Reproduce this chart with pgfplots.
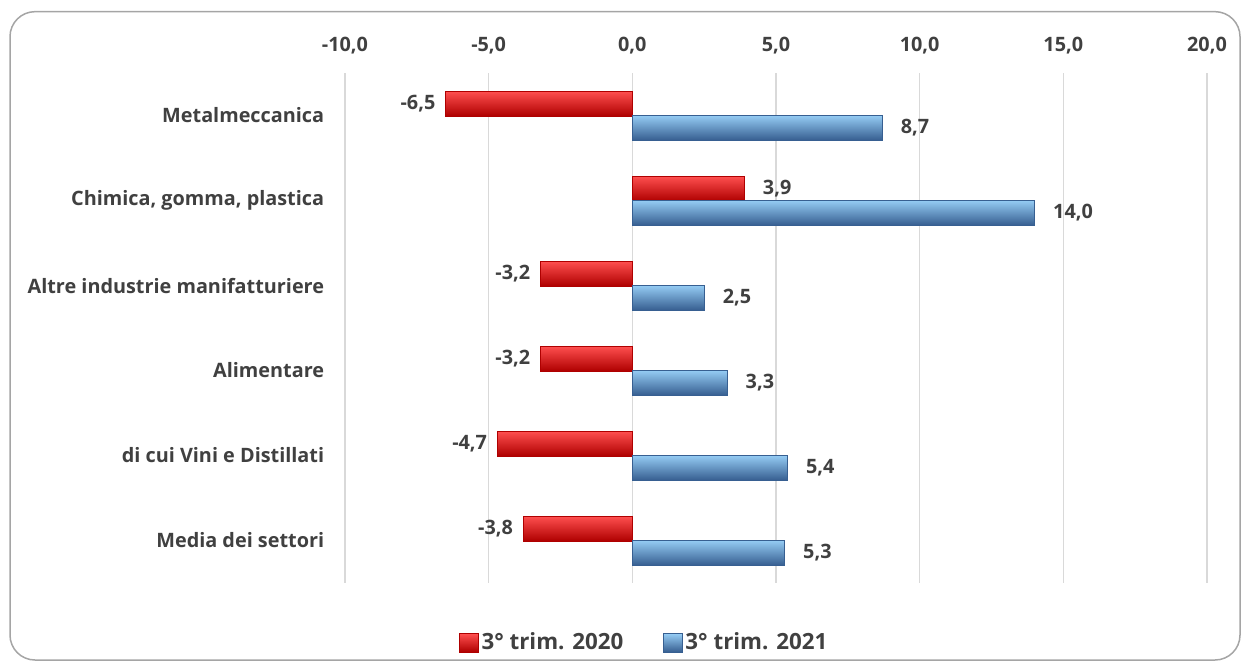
\documentclass[border=0pt]{standalone}
\usepackage{fontspec}
\setmainfont{Open Sans}
\usepackage{pgfplots}
\pgfplotsset{compat=1.18}
\definecolor{txt}{RGB}{64,64,64}
\definecolor{gridc}{RGB}{217,217,217}
\definecolor{frame}{RGB}{165,165,165}
\definecolor{redA}{RGB}{255,80,80}
\definecolor{redM}{RGB}{255,0,0}
\definecolor{redB}{RGB}{175,0,0}
\definecolor{bluA}{RGB}{150,205,245}
\definecolor{bluM}{RGB}{95,155,220}
\definecolor{bluB}{RGB}{55,95,145}
\pgfplotsset{
  r/.style={draw=redB, line width=0.3pt, top color=redA, middle color=redM, bottom color=redB, bar shift=7.2pt},
  b/.style={draw=bluB, line width=0.3pt, top color=bluA, middle color=bluM, bottom color=bluB, bar shift=-7.2pt},
}
\begin{document}
\begin{tikzpicture}
\path[use as bounding box] (0,0) rectangle (748.2pt,-401.4pt);
\draw[frame, line width=0.9pt, rounded corners=15pt] (6pt,-7pt) rectangle (744pt,-396pt);
\begin{axis}[
  at={(207pt,-43.8pt)}, anchor=north west,
  scale only axis, width=517.2pt, height=306pt,
  xbar, bar width=15pt,
  xmin=-10, xmax=20, xtick={-10,-5,...,20},
  ymin=-0.5, ymax=5.5, y dir=reverse,
  ytick={0,...,5},
  yticklabels={Metalmeccanica,{Chimica, gomma, plastica},Altre industrie manifatturiere,Alimentare,di cui Vini e Distillati,Media dei settori},
  xticklabel pos=upper,
  axis line style={draw=none}, major tick length=0pt,
  xmajorgrids, grid style={gridc, line width=0.9pt},
  font=\bfseries\fontsize{11.9}{14}\selectfont, text=txt,
  xticklabel style={yshift=8pt, text=txt},
  yticklabel style={xshift=-9pt, text=txt},
  /pgf/number format/.cd, fixed, fixed zerofill, precision=1, use comma, assume math mode=true,
  /pgfplots/.cd,
  nodes near coords, nodes near coords align=horizontal,
  visualization depends on=rawx \as \rawx,
  every node near coord/.append style={text=txt, inner sep=6pt, xshift={(\rawx>0)*5}},
  legend image code/.code={\draw[#1] (0pt,-5.5pt) rectangle (11pt,5.5pt);},
  legend style={at={(0.348,-0.117)}, anchor=center, draw=none, fill=none, legend columns=2,
    text=txt, font=\bfseries\fontsize{13.4}{16}\selectfont,
    /tikz/every even column/.append style={column sep=22pt},
    /tikz/every odd column/.append style={column sep=0pt}},
  legend cell align=left,
]
\addplot[r] coordinates {(-6.5,0)};
\addplot[b] coordinates {(8.7,0)};
\addplot[r, forget plot] coordinates {(3.9,1)};
\addplot[b, forget plot] coordinates {(14.0,1)};
\addplot[r, forget plot] coordinates {(-3.2,2)};
\addplot[b, forget plot] coordinates {(2.5,2)};
\addplot[r, forget plot] coordinates {(-3.2,3)};
\addplot[b, forget plot] coordinates {(3.3,3)};
\addplot[r, forget plot] coordinates {(-4.7,4)};
\addplot[b, forget plot] coordinates {(5.4,4)};
\addplot[r, forget plot] coordinates {(-3.8,5)};
\addplot[b, forget plot] coordinates {(5.3,5)};
\legend{3° trim. 2020, 3° trim. 2021}
\end{axis}
\end{tikzpicture}
\end{document}
